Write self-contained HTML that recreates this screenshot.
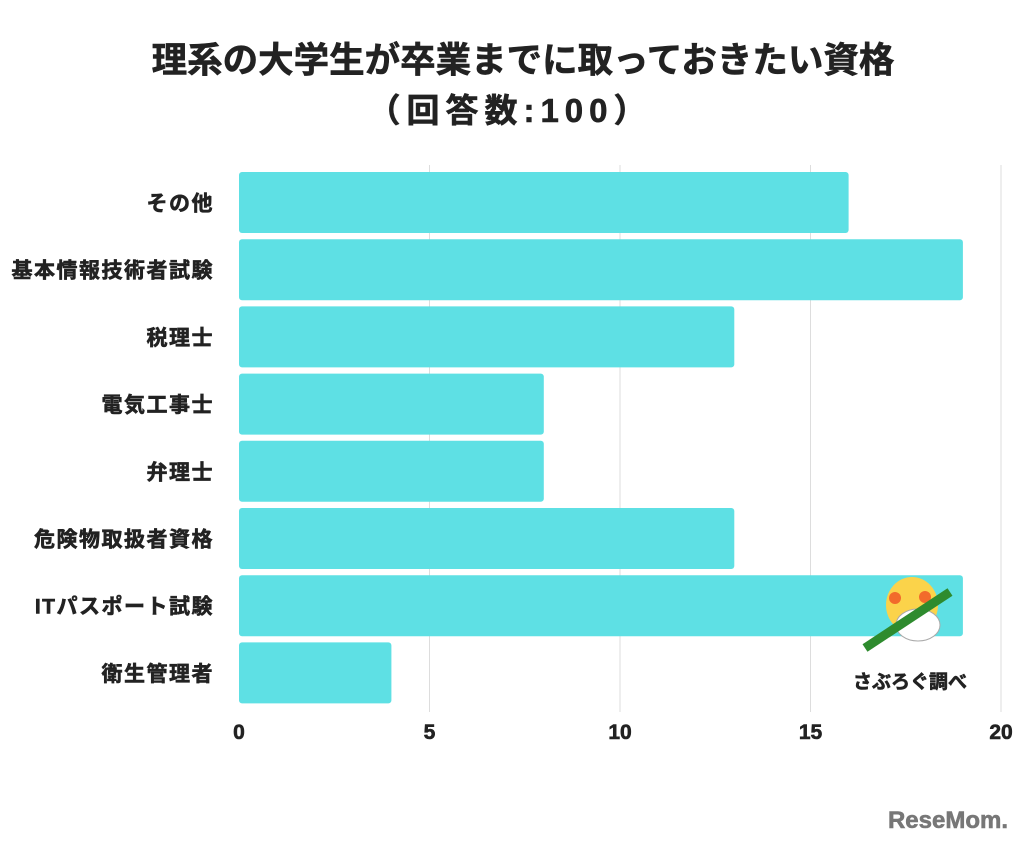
<!DOCTYPE html>
<html><head><meta charset="utf-8"><style>
body{margin:0;background:#fff;width:1024px;height:840px;overflow:hidden}
text{font-family:"Liberation Sans","Noto Sans CJK JP",sans-serif;font-weight:bold;fill:#222;stroke:#222;stroke-width:0.6}
</style></head><body>
<svg id="chart" width="1024" height="840">
<text x="523" y="72" text-anchor="middle" font-size="35.5">理系の大学生が卒業までに取っておきたい資格</text>
<text x="510" y="122" text-anchor="middle" font-size="33" letter-spacing="6">（回答数:100）</text>
<g id="grid"></g><g id="bars"></g><g id="ylabels"></g><g id="xticks"></g>
<g>
<ellipse cx="912" cy="605" rx="26" ry="28" fill="#fbd34a"/>
<ellipse cx="918" cy="625" rx="22" ry="16" fill="#fff" stroke="#aaa"/>
<circle cx="895" cy="598" r="6" fill="#f26b2b"/><circle cx="925" cy="597" r="6" fill="#f26b2b"/>
<line x1="865" y1="648" x2="950" y2="592" stroke="#2e8b2e" stroke-width="9"/>
<text x="910" y="688" text-anchor="middle" font-size="19">さぶろぐ調べ</text>
</g>
<text x="1008" y="828" text-anchor="end" font-size="24" style="fill:#777;stroke:#777">ReseMom.</text>
</svg>
<script>
const categories=["その他","基本情報技術者試験","税理士","電気工事士","弁理士","危険物取扱者資格","ITパスポート試験","衛生管理者"];
const values=[16,19,13,8,8,13,19,4];
const ticks=[0,5,10,15,20];
const NS="http://www.w3.org/2000/svg";
const x0=239,x1=1001,xmax=20,top0=172,pitch=67.2,bh=61;
const xs=v=>x0+(x1-x0)*v/xmax;
function mk(t,a,p){const e=document.createElementNS(NS,t);for(const k in a)e.setAttribute(k,a[k]);p.appendChild(e);return e;}
const grid=document.getElementById('grid'),bars=document.getElementById('bars'),yl=document.getElementById('ylabels'),xt=document.getElementById('xticks');
ticks.forEach(t=>{
 if(t>0){const l=mk('line',{x1:xs(t),x2:xs(t),y1:165,y2:712,stroke:'#ddd','stroke-width':1},grid);
 
 }
 const tx=mk('text',{x:xs(t),y:739,'text-anchor':'middle','font-size':21},xt);tx.textContent=t;
 
 
});
categories.forEach((c,i)=>{
 const y=top0+i*pitch;
 const r=mk('rect',{x:x0,y:y,width:xs(values[i])-x0,height:bh,rx:3,fill:'#5ee0e4'},bars);
 
 
 const tx=mk('text',{x:214,y:y+bh/2+8,'text-anchor':'end','font-size':21,'letter-spacing':1.5},yl);tx.textContent=c;
 
 
});
</script>
</body></html>
